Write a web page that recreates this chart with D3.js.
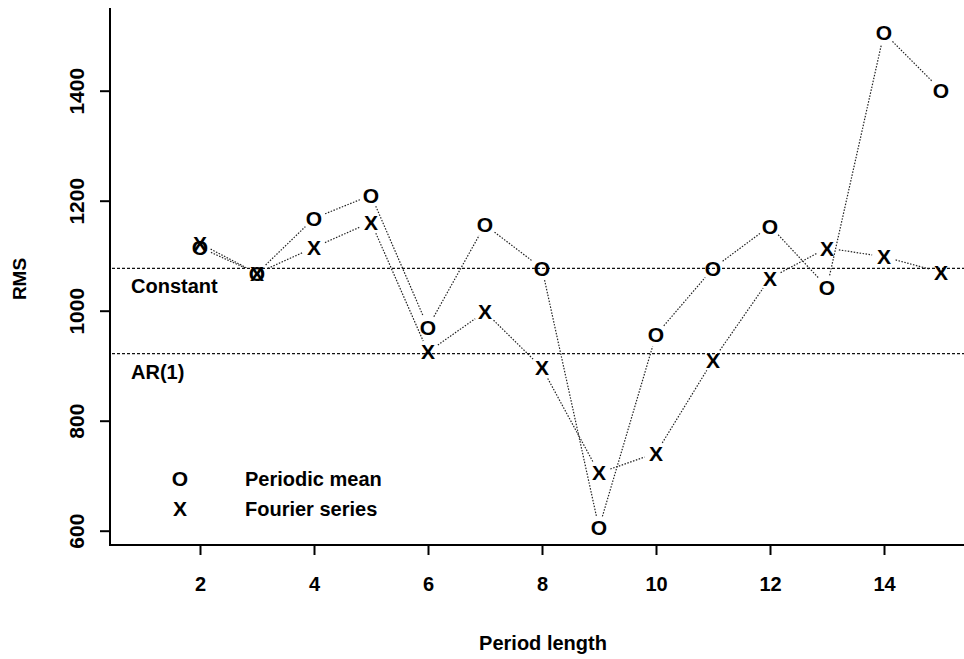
<!DOCTYPE html>
<html>
<head>
<meta charset="utf-8">
<script src="https://cdn.jsdelivr.net/npm/d3@7"></script>
<style>
  body { margin: 0; background: #fff; }
  text { font-family: "Liberation Sans", Arial, sans-serif; fill: #000; }
</style>
</head>
<body>
<div id="chart"></div>
<script>
// period lengths and RMS values
var periods = [2, 3, 4, 5, 6, 7, 8, 9, 10, 11, 12, 13, 14, 15];
var periodicMean = [1115, 1068, 1168, 1210, 970, 1156, 1077, 605, 956, 1077, 1154, 1043, 1505, 1401];
var fourierSeries = [1122, 1068, 1115, 1161, 925, 998, 896, 705, 741, 910, 1059, 1114, 1098, 1070];
var xTicks = [2, 4, 6, 8, 10, 12, 14];
var yTicks = [600, 800, 1000, 1200, 1400];
var refNames = ["Constant", "AR(1)"];
var refValues = [1077, 922];
var legendNames = ["Periodic mean", "Fourier series"];
var legendSymbols = ["O", "X"];

var width = 964,
  height = 659;

var x = d3.scaleLinear().domain([2, 14]).range([200, 884]);
var y = d3.scaleLinear().domain([600, 1400]).range([530.7, 90.7]);

var svg = d3
  .select("#chart")
  .append("svg")
  .attr("width", width)
  .attr("height", height);

// axes, R style: separate left and bottom lines
var xAxis = d3.axisBottom(x).tickValues(xTicks).tickSize(10).tickPadding(22);
var gx = svg
  .append("g")
  .attr("transform", "translate(0,545)")
  .call(xAxis);
gx.select(".domain").remove();
gx.selectAll("line").attr("stroke", "#000").attr("stroke-width", 2);
gx.selectAll("text")
  .attr("font-family", "Liberation Sans, Arial, sans-serif")
  .attr("font-size", 20)
  .attr("font-weight", "bold");

svg
  .append("line")
  .attr("x1", 110)
  .attr("x2", 964)
  .attr("y1", 545)
  .attr("y2", 545)
  .attr("stroke", "#000")
  .attr("stroke-width", 2);

var yAxis = d3.axisLeft(y).tickValues(yTicks).tickSize(10).tickFormat(d3.format("d"));
var gy = svg
  .append("g")
  .attr("transform", "translate(110,0)")
  .call(yAxis);
gy.select(".domain").remove();
gy.selectAll("line").attr("stroke", "#000").attr("stroke-width", 2);
// rotated tick labels, reading bottom to top
gy.selectAll(".tick text")
  .attr("font-family", "Liberation Sans, Arial, sans-serif")
  .attr("font-size", 21)
  .attr("font-weight", "bold")
  .attr("text-anchor", "middle")
  .attr("dy", null)
  .attr("x", null)
  .attr("transform", "translate(-26,0) rotate(-90)");

svg
  .append("line")
  .attr("x1", 110)
  .attr("x2", 110)
  .attr("y1", 8)
  .attr("y2", 546)
  .attr("stroke", "#000")
  .attr("stroke-width", 2);

// axis titles
svg
  .append("text")
  .attr("x", 543)
  .attr("y", 650)
  .attr("text-anchor", "middle")
  .attr("font-size", 20)
  .attr("font-weight", "bold")
  .text("Period length");

svg
  .append("text")
  .attr("transform", "translate(26,279) rotate(-90)")
  .attr("text-anchor", "middle")
  .attr("font-size", 19)
  .attr("font-weight", "bold")
  .text("RMS");

// reference lines
refValues.forEach(function(v, i) {
  svg
    .append("line")
    .attr("x1", 112)
    .attr("x2", 964)
    .attr("y1", y(v))
    .attr("y2", y(v))
    .attr("stroke", "#111")
    .attr("stroke-width", 1.3)
    .attr("stroke-dasharray", "3,2");
  svg
    .append("text")
    .attr("x", 131)
    .attr("y", y(v) + 25)
    .attr("font-size", 20)
    .attr("font-weight", "bold")
    .text(refNames[i]);
});

// type="b" style: dotted segments with a gap round each symbol
function drawSeries(values, symbol) {
  var gap = 12;
  for (var i = 0; i < values.length - 1; i++) {
    var x0 = x(periods[i]),
      y0 = y(values[i]),
      x1 = x(periods[i + 1]),
      y1 = y(values[i + 1]);
    var len = Math.sqrt((x1 - x0) * (x1 - x0) + (y1 - y0) * (y1 - y0));
    if (len <= 2 * gap) continue;
    var ux = (x1 - x0) / len,
      uy = (y1 - y0) / len;
    svg
      .append("line")
      .attr("x1", x0 + ux * gap)
      .attr("y1", y0 + uy * gap)
      .attr("x2", x1 - ux * gap)
      .attr("y2", y1 - uy * gap)
      .attr("stroke", "#222")
      .attr("stroke-width", 1.2)
      .attr("stroke-dasharray", "1.5,1.5");
  }
  svg
    .selectAll("text.sym" + symbol)
    .data(values)
    .enter()
    .append("text")
    .attr("class", "sym" + symbol)
    .attr("x", function(d, i) {
      return x(periods[i]);
    })
    .attr("y", function(d) {
      return y(d) + 7.5;
    })
    .attr("text-anchor", "middle")
    .attr("font-size", 21)
    .attr("font-weight", "bold")
    .text(symbol);
}

drawSeries(periodicMean, "O");
drawSeries(fourierSeries, "X");

// legend
legendNames.forEach(function(name, i) {
  svg
    .append("text")
    .attr("x", 180)
    .attr("y", 486 + i * 30)
    .attr("text-anchor", "middle")
    .attr("font-size", 21)
    .attr("font-weight", "bold")
    .text(legendSymbols[i]);
  svg
    .append("text")
    .attr("x", 245)
    .attr("y", 486 + i * 30)
    .attr("font-size", 20)
    .attr("font-weight", "bold")
    .text(name);
});
</script>
</body>
</html>
